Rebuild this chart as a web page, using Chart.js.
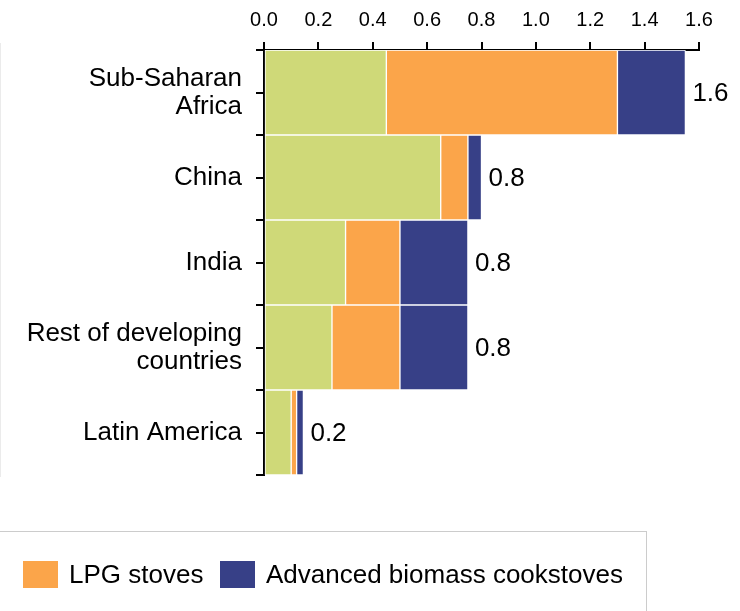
<!DOCTYPE html>
<html>
<head>
<meta charset="utf-8">
<script src="https://cdn.jsdelivr.net/npm/chart.js@4.4.1/dist/chart.umd.min.js"></script>
<style>
  html, body { margin: 0; padding: 0; background: #fff; }
  #wrap { position: relative; width: 740px; height: 611px; overflow: hidden; font-family: "Liberation Sans", Arial, sans-serif; }
  #frame-left { position: absolute; left: 0; top: 43px; width: 1px; height: 434px; background: #ebebeb; }
  #legend { position: absolute; left: -10px; top: 531px; width: 657px; height: 100px; border: 1px solid #cccccc; box-sizing: border-box; }
  .lg-item { position: absolute; top: 27px; display: flex; align-items: center; font-size: 26px; color: #000; white-space: nowrap; }
  .lg-box { width: 35px; height: 27px; margin-right: 11px; }
</style>
</head>
<body>
<div id="wrap">
  <canvas id="chart" width="740" height="611"></canvas>
  <div id="frame-left"></div>
  <div id="legend"></div>
</div>
<script>
// Investimenti cucina pulita per regione
const categories = [['Sub-Saharan', 'Africa'], 'China', 'India', ['Rest of developing', 'countries'], 'Latin America'];
const seriesNames = ['Biogas systems', 'LPG stoves', 'Advanced biomass cookstoves'];
const biogas = [0.45, 0.65, 0.30, 0.25, 0.10];
const lpg = [0.85, 0.10, 0.20, 0.25, 0.02];
const biomass = [0.25, 0.05, 0.25, 0.25, 0.025];
const totalLabels = ['1.6', '0.8', '0.8', '0.8', '0.2'];
const xTicks = [0, 0.2, 0.4, 0.6, 0.8, 1.0, 1.2, 1.4, 1.6];

const colors = ['#cfd978', '#fba54a', '#374087'];
const FONT = '"Liberation Sans", Arial, sans-serif';

// tick marks al centro di ogni categoria + etichette dei totali
const extrasPlugin = {
  id: 'extras',
  afterDraw(chart) {
    const ctx = chart.ctx;
    const y = chart.scales.y;
    ctx.save();
    ctx.strokeStyle = '#000';
    ctx.lineWidth = 2;
    categories.forEach((c, i) => {
      const py = Math.round(y.getPixelForValue(i));
      ctx.beginPath();
      ctx.moveTo(y.right - 8, py);
      ctx.lineTo(y.right, py);
      ctx.stroke();
    });
    const last = chart.getDatasetMeta(2);
    ctx.fillStyle = '#000';
    ctx.font = '26px ' + FONT;
    ctx.textAlign = 'left';
    ctx.textBaseline = 'middle';
    last.data.forEach((bar, i) => {
      ctx.fillText(totalLabels[i], bar.x + 7, bar.y + 1);
    });
    ctx.restore();
  }
};

new Chart(document.getElementById('chart'), {
  type: 'bar',
  data: {
    labels: categories,
    datasets: [
      { label: seriesNames[0], data: biogas, backgroundColor: colors[0] },
      { label: seriesNames[1], data: lpg, backgroundColor: colors[1] },
      { label: seriesNames[2], data: biomass, backgroundColor: colors[2] },
    ].map(d => Object.assign(d, {
      borderColor: '#ffffff', borderWidth: 1, borderSkipped: false,
      barPercentage: 1, categoryPercentage: 1
    }))
  },
  options: {
    indexAxis: 'y',
    responsive: false,
    animation: false,
    layout: { padding: { top: 0, right: 41, bottom: 136, left: 0 } },
    plugins: { legend: { display: false }, tooltip: { enabled: false } },
    scales: {
      x: {
        position: 'top', stacked: true, min: 0, max: 1.6,
        afterBuildTicks: s => { s.ticks = xTicks.map(v => ({ value: v })); },
        afterFit: s => { s.height = 50; },
        border: { color: '#000', width: 2 },
        grid: { drawOnChartArea: false, color: '#000', lineWidth: 2, tickLength: 8 },
        ticks: { color: '#000', font: { family: FONT, size: 20 }, padding: 10, maxRotation: 0,
                 callback: v => Number(v).toFixed(1) }
      },
      y: {
        stacked: true,
        afterFit: s => { s.width = 264; },
        border: { color: '#000', width: 2 },
        grid: { drawOnChartArea: false, color: '#000', lineWidth: 2, tickLength: 8, offset: true },
        ticks: { color: '#000', font: { family: FONT, size: 26, lineHeight: 1.08 }, padding: 14 }
      }
    }
  },
  plugins: [extrasPlugin]
});

// legenda (la prima voce è tagliata fuori dal riquadro nell'originale)
const legendEl = document.getElementById('legend');
const legendX = [32, 229];
[1, 2].forEach((k, j) => {
  const item = document.createElement('div');
  item.className = 'lg-item';
  item.style.left = legendX[j] + 'px';
  item.innerHTML = `<span class="lg-box" style="background:${colors[k]}"></span><span>${seriesNames[k]}</span>`;
  legendEl.appendChild(item);
});
</script>
</body>
</html>
